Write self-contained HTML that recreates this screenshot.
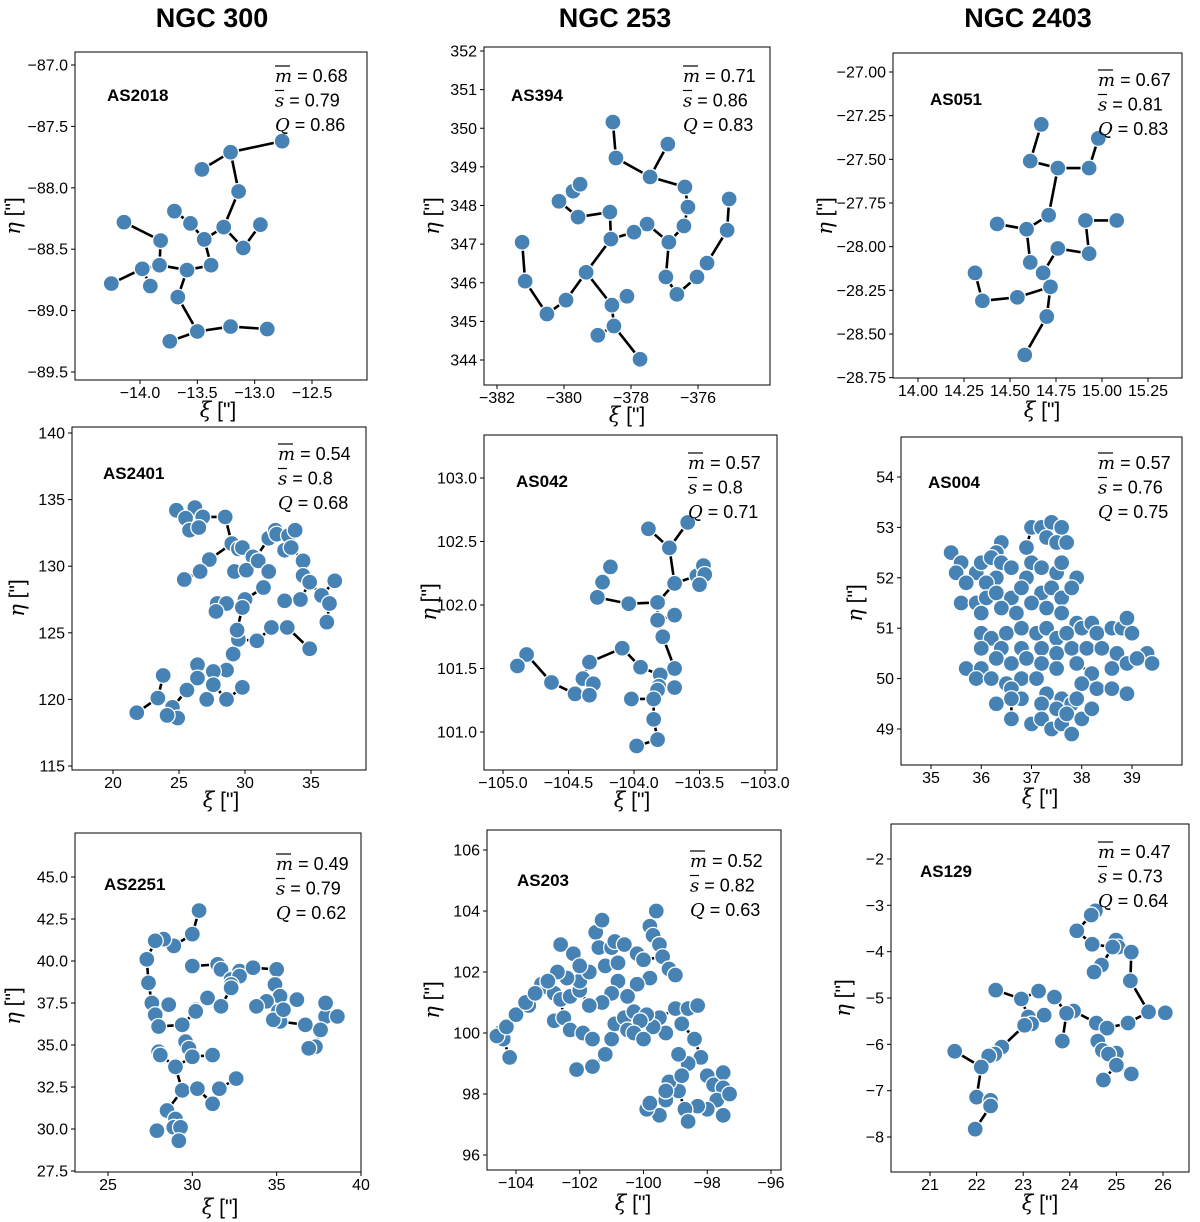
<!DOCTYPE html>
<html><head><meta charset="utf-8">
<style>
html,body{margin:0;padding:0;background:#fff;}
svg{display:block;font-family:"Liberation Sans","DejaVu Sans",sans-serif;}
</style></head>
<body>
<svg id="fig" width="1200" height="1222" viewBox="0 0 1200 1222" xmlns="http://www.w3.org/2000/svg">
<text x="212" y="27" text-anchor="middle" font-size="27" font-weight="bold">NGC 300</text>
<text x="615" y="27" text-anchor="middle" font-size="27" font-weight="bold">NGC 253</text>
<text x="1028" y="27" text-anchor="middle" font-size="27" font-weight="bold">NGC 2403</text>
</svg>
<script>
// ---- data ----
const as2018Points=[[-12.76,-87.62],[-13.21,-87.71],[-13.46,-87.85],[-13.14,-88.03],[-13.70,-88.19],[-13.56,-88.29],[-14.14,-88.28],[-13.82,-88.43],[-13.44,-88.42],[-13.27,-88.32],[-12.95,-88.30],[-13.10,-88.49],[-13.38,-88.63],[-13.83,-88.63],[-13.59,-88.67],[-13.98,-88.66],[-14.25,-88.78],[-13.91,-88.80],[-13.67,-88.89],[-13.50,-89.17],[-13.21,-89.13],[-12.89,-89.15],[-13.74,-89.25]];
const as394Points=[[-378.54,350.16],[-378.45,349.23],[-376.90,349.59],[-377.43,348.74],[-376.39,348.48],[-376.30,347.96],[-375.07,348.17],[-375.13,347.36],[-375.73,346.51],[-376.03,346.15],[-376.63,345.70],[-376.96,346.15],[-376.87,347.05],[-376.42,347.47],[-377.52,347.52],[-377.91,347.31],[-378.63,347.83],[-378.60,347.13],[-379.34,346.27],[-379.94,345.55],[-380.51,345.19],[-381.16,346.04],[-381.25,347.05],[-380.15,348.11],[-379.73,348.37],[-379.52,348.55],[-379.58,347.70],[-378.57,345.42],[-378.12,345.65],[-378.51,344.88],[-378.99,344.64],[-377.73,344.02]];
const as051Points=[[14.67,-27.30],[14.98,-27.38],[14.61,-27.51],[14.76,-27.55],[14.93,-27.55],[14.71,-27.82],[14.91,-27.85],[15.08,-27.85],[14.43,-27.87],[14.59,-27.90],[14.76,-28.01],[14.93,-28.04],[14.61,-28.09],[14.68,-28.15],[14.31,-28.15],[14.35,-28.31],[14.54,-28.29],[14.72,-28.23],[14.70,-28.40],[14.58,-28.62]];
const as2401Points=[[24.8,134.2],[26.2,134.4],[25.5,133.6],[26.8,133.7],[28.5,133.7],[25.8,132.7],[26.5,132.9],[29.0,131.7],[29.5,131.3],[29.8,131.4],[30.8,130.6],[30.6,130.7],[27.3,130.5],[26.6,129.6],[25.4,129.0],[29.2,129.6],[30.1,129.7],[31.8,132.1],[32.3,132.7],[32.4,132.4],[33.3,132.3],[33.8,132.7],[33.0,131.2],[33.5,131.4],[31.0,130.4],[31.8,129.6],[34.4,130.4],[34.4,129.3],[34.9,128.8],[34.2,127.5],[35.8,127.8],[36.8,128.9],[36.4,127.2],[36.2,125.8],[34.9,123.8],[33.0,127.4],[33.2,125.4],[32.0,125.4],[30.9,124.4],[29.5,124.5],[29.4,125.2],[27.9,127.2],[28.6,127.2],[30.0,127.5],[29.8,126.9],[31.4,128.4],[27.8,126.6],[29.1,123.4],[28.6,122.2],[27.6,122.1],[26.4,122.6],[26.4,121.6],[27.6,121.1],[29.8,120.9],[25.6,120.7],[27.1,120.0],[28.6,120.0],[23.8,121.8],[23.4,120.1],[24.5,119.4],[24.9,118.6],[24.1,118.8],[21.8,119.0]];
const as042Points=[[-103.59,102.65],[-103.89,102.60],[-103.73,102.45],[-104.18,102.30],[-104.24,102.18],[-103.52,102.23],[-103.47,102.31],[-103.46,102.24],[-103.50,102.16],[-103.69,102.17],[-104.28,102.06],[-104.04,102.01],[-103.82,102.02],[-103.69,101.92],[-103.82,101.88],[-103.78,101.75],[-104.09,101.66],[-104.34,101.55],[-103.95,101.51],[-103.69,101.50],[-103.80,101.45],[-103.81,101.36],[-103.69,101.35],[-103.82,101.33],[-104.82,101.61],[-104.89,101.52],[-104.63,101.39],[-104.39,101.42],[-104.31,101.38],[-104.45,101.30],[-104.34,101.29],[-104.02,101.26],[-103.85,101.26],[-103.85,101.10],[-103.82,100.94],[-103.98,100.89]];
const as004Points=[[37.0,53.0],[37.2,53.0],[37.4,53.1],[37.6,53.0],[37.3,52.8],[37.5,52.7],[37.7,52.7],[36.9,52.6],[36.4,52.7],[36.3,52.5],[35.4,52.5],[35.6,52.3],[35.9,52.1],[35.5,52.1],[36.0,52.3],[36.2,52.4],[36.4,52.3],[36.6,52.2],[37.0,52.3],[37.2,52.2],[37.5,52.1],[37.6,52.3],[37.9,52.0],[36.9,52.0],[36.3,52.0],[36.1,51.9],[35.7,51.9],[35.6,51.5],[35.9,51.5],[36.1,51.6],[36.3,51.7],[36.6,51.6],[36.8,51.8],[37.2,51.7],[37.4,51.8],[37.6,51.6],[37.8,51.8],[37.0,51.5],[36.4,51.4],[36.0,51.3],[36.7,51.3],[37.3,51.4],[37.6,51.3],[37.9,51.1],[38.0,51.0],[38.2,51.1],[38.3,50.9],[38.6,51.0],[38.8,51.0],[38.9,51.2],[39.0,50.9],[36.0,50.9],[36.2,50.8],[36.5,50.9],[36.8,51.0],[37.1,50.9],[37.3,51.0],[37.5,50.8],[37.7,50.9],[36.0,50.6],[36.4,50.6],[36.8,50.6],[37.2,50.6],[37.5,50.5],[37.8,50.6],[38.1,50.6],[38.4,50.6],[38.7,50.5],[38.6,50.2],[38.9,50.3],[39.3,50.5],[39.4,50.3],[39.1,50.4],[35.7,50.2],[36.0,50.2],[36.3,50.4],[36.6,50.3],[36.9,50.4],[37.2,50.3],[37.5,50.2],[37.9,50.3],[38.2,50.1],[38.0,49.9],[38.3,49.8],[38.6,49.8],[38.9,49.7],[35.9,50.0],[36.2,50.0],[36.5,49.9],[36.8,50.0],[37.1,50.0],[36.6,49.8],[36.8,49.6],[37.3,49.7],[37.6,49.6],[37.8,49.5],[37.5,49.4],[37.2,49.5],[36.6,49.6],[36.3,49.5],[36.6,49.2],[37.0,49.1],[37.2,49.2],[37.4,49.0],[37.6,49.1],[37.7,49.3],[37.8,48.9],[38.0,49.2],[38.2,49.4],[37.9,49.6]];
const as2251Points=[[30.4,43.0],[30.0,41.6],[28.9,40.9],[28.3,41.3],[27.8,41.2],[27.3,40.1],[27.4,38.7],[30.0,39.7],[31.5,39.8],[31.7,39.5],[32.8,39.4],[32.3,38.9],[33.6,39.6],[32.8,39.1],[32.3,38.6],[32.3,38.4],[35.0,39.5],[34.9,38.6],[35.2,37.9],[34.4,37.6],[33.8,37.3],[30.9,37.8],[30.2,37.1],[30.2,37.0],[31.7,37.3],[27.6,37.5],[28.6,37.4],[27.8,36.8],[28.0,36.1],[29.4,36.2],[29.6,35.2],[29.8,34.8],[28.0,34.6],[28.1,34.4],[31.2,34.4],[30.0,34.3],[29.0,33.7],[29.4,32.3],[30.3,32.4],[31.2,31.5],[31.6,32.4],[32.6,33.0],[28.5,31.1],[29.0,30.6],[28.9,30.1],[29.3,30.1],[27.9,29.9],[29.2,29.3],[35.1,37.0],[36.2,37.7],[36.7,36.2],[37.9,36.7],[37.6,35.9],[37.3,34.9],[36.9,34.8],[38.6,36.7],[37.9,37.5],[35.2,36.4],[34.8,36.5],[35.4,37.1]];
const as203Points=[[-104.5,100.0],[-104.4,99.8],[-104.6,99.9],[-104.3,100.2],[-104.2,99.2],[-104.0,100.6],[-103.6,100.9],[-103.7,101.0],[-103.3,101.4],[-103.2,101.6],[-103.0,101.5],[-102.8,101.3],[-102.6,101.1],[-102.3,101.2],[-102.0,101.4],[-102.8,100.4],[-102.5,100.5],[-102.3,100.1],[-101.9,100.0],[-101.6,99.8],[-102.1,98.8],[-101.6,98.9],[-101.2,99.3],[-101.0,99.8],[-100.9,100.3],[-100.6,100.5],[-100.3,100.7],[-100.5,100.1],[-102.6,102.9],[-102.2,102.6],[-102.0,101.7],[-101.5,103.3],[-101.3,103.7],[-101.4,102.8],[-101.0,102.8],[-100.9,103.0],[-100.6,102.9],[-100.2,102.6],[-100.0,102.4],[-99.8,103.5],[-99.6,104.0],[-99.7,103.2],[-99.5,102.9],[-99.4,102.5],[-99.2,102.1],[-99.0,101.9],[-99.8,101.8],[-100.2,101.6],[-100.5,101.2],[-100.8,101.7],[-101.0,101.3],[-101.3,101.0],[-101.7,100.9],[-102.4,101.8],[-102.7,102.0],[-103.0,101.7],[-103.4,101.3],[-99.5,100.5],[-99.3,100.0],[-99.7,100.2],[-99.9,100.6],[-100.1,100.4],[-100.3,100.0],[-100.0,99.8],[-99.0,100.8],[-98.8,100.3],[-98.6,100.8],[-98.3,100.9],[-98.4,99.8],[-98.2,99.2],[-98.6,99.0],[-98.9,99.3],[-98.0,98.6],[-97.8,98.3],[-97.5,98.7],[-97.5,98.2],[-97.7,97.8],[-98.0,97.5],[-98.3,97.6],[-98.7,97.5],[-98.6,97.1],[-98.9,98.1],[-99.2,98.4],[-98.8,98.6],[-99.3,97.8],[-99.5,97.3],[-99.9,97.5],[-99.8,97.7],[-99.3,98.1],[-97.5,97.3],[-97.3,98.0],[-101.2,102.2],[-100.8,102.3],[-101.7,102.0],[-102.0,102.2]];
const as129Points=[[24.55,-3.12],[24.46,-3.21],[24.15,-3.55],[24.48,-3.84],[24.99,-3.75],[25.04,-3.90],[24.92,-3.90],[25.32,-4.01],[24.68,-4.29],[24.52,-4.44],[25.30,-4.63],[23.33,-4.85],[22.96,-5.02],[23.67,-4.98],[22.41,-4.83],[25.69,-5.30],[26.05,-5.32],[24.08,-5.28],[23.93,-5.33],[23.45,-5.37],[23.11,-5.41],[23.18,-5.56],[23.03,-5.59],[24.57,-5.54],[25.25,-5.54],[24.80,-5.65],[24.60,-5.93],[23.84,-5.93],[24.70,-6.13],[25.00,-6.19],[24.83,-6.21],[22.54,-6.06],[22.39,-6.21],[22.26,-6.25],[21.53,-6.15],[22.10,-6.49],[25.00,-6.45],[24.72,-6.77],[25.32,-6.64],[22.00,-7.14],[22.30,-7.21],[22.30,-7.33],[21.97,-7.83]];

const p1XTicks=[-14.0,-13.5,-13.0,-12.5], p1YTicks=[-87.0,-87.5,-88.0,-88.5,-89.0,-89.5];
const p2XTicks=[-382,-380,-378,-376], p2YTicks=[344,345,346,347,348,349,350,351,352];
const p3XTicks=[14.00,14.25,14.50,14.75,15.00,15.25], p3YTicks=[-27.00,-27.25,-27.50,-27.75,-28.00,-28.25,-28.50,-28.75];
const p4XTicks=[20,25,30,35], p4YTicks=[115,120,125,130,135,140];
const p5XTicks=[-105.0,-104.5,-104.0,-103.5,-103.0], p5YTicks=[101.0,101.5,102.0,102.5,103.0];
const p6XTicks=[35,36,37,38,39], p6YTicks=[49,50,51,52,53,54];
const p7XTicks=[25,30,35,40], p7YTicks=[27.5,30.0,32.5,35.0,37.5,40.0,42.5,45.0];
const p8XTicks=[-104,-102,-100,-98,-96], p8YTicks=[96,98,100,102,104,106];
const p9XTicks=[21,22,23,24,25,26], p9YTicks=[-8,-7,-6,-5,-4,-3,-2];

const panelNames=["AS2018","AS394","AS051","AS2401","AS042","AS004","AS2251","AS203","AS129"];
const mValues=["0.68","0.71","0.67","0.54","0.57","0.57","0.49","0.52","0.47"];
const sValues=["0.79","0.86","0.81","0.8","0.8","0.76","0.79","0.82","0.73"];
const qValues=["0.86","0.83","0.83","0.68","0.71","0.75","0.62","0.63","0.64"];

// ---- layout (pixel geometry) ----
const layout=[
 {pts:as2018Points,xt:p1XTicks,yt:p1YTicks,xd:1,yd:1,f:[75,52,367,380],xr:[-14,140,-12.5,312],yr:[-87,65,-89.5,372],st:[275,76],lb:[107,95],xl:[218,417],yl:[20,216]},
 {pts:as394Points,xt:p2XTicks,yt:p2YTicks,xd:0,yd:0,f:[484,47,770,385],xr:[-382,497,-376,698],yr:[352,51,344,360],st:[683,76],lb:[511,95],xl:[627,422],yl:[439,216]},
 {pts:as051Points,xt:p3XTicks,yt:p3YTicks,xd:2,yd:2,f:[893,53,1182,378],xr:[14,918,15.25,1148],yr:[-27,72,-28.5,334],st:[1098,80],lb:[930,99],xl:[1042,417],yl:[832,216]},
 {pts:as2401Points,xt:p4XTicks,yt:p4YTicks,xd:0,yd:0,f:[72,427,366,770],xr:[20,113,35,311],yr:[140,433,115,766],st:[278,454],lb:[103,473],xl:[221,807],yl:[24,598]},
 {pts:as042Points,xt:p5XTicks,yt:p5YTicks,xd:1,yd:1,f:[484,435,777,770],xr:[-105,503,-103,765],yr:[103,478,101,732],st:[688,463],lb:[516,481],xl:[632,807],yl:[436,602]},
 {pts:as004Points,xt:p6XTicks,yt:p6YTicks,xd:0,yd:0,f:[901,437,1182,765],xr:[35,931,39,1132],yr:[54,477,49,729],st:[1098,463],lb:[928,482],xl:[1040,804],yl:[862,603]},
 {pts:as2251Points,xt:p7XTicks,yt:p7YTicks,xd:0,yd:1,f:[75,833,361,1172],xr:[25,108,40,361],yr:[45,877,27.5,1171],st:[276,864],lb:[104,884],xl:[220,1214],yl:[20,1006]},
 {pts:as203Points,xt:p8XTicks,yt:p8YTicks,xd:0,yd:0,f:[487,830,781,1170],xr:[-104,516,-96,771],yr:[106,850,96,1155],st:[690,861],lb:[517,880],xl:[633,1210],yl:[439,1000]},
 {pts:as129Points,xt:p9XTicks,yt:p9YTicks,xd:0,yd:0,f:[891,824,1189,1172],xr:[21,930,26,1163],yr:[-2,859,-8,1137],st:[1098,852],lb:[920,871],xl:[1040,1210],yl:[850,998]}
];

const NS="http://www.w3.org/2000/svg";
const svg=document.getElementById('fig');
function mk(tag,attrs,parent){const e=document.createElementNS(NS,tag);for(const k in attrs)e.setAttribute(k,attrs[k]);parent.appendChild(e);return e;}
function fmt(v,d){return (v<0?"\u2212":"")+Math.abs(v).toFixed(d);}

layout.forEach((L,i)=>{
  const g=mk('g',{},svg);
  
  
  const sx=v=>L.xr[1]+(v-L.xr[0])*(L.xr[3]-L.xr[1])/(L.xr[2]-L.xr[0]);
  const sy=v=>L.yr[1]+(v-L.yr[0])*(L.yr[3]-L.yr[1])/(L.yr[2]-L.yr[0]);
  const [x0,y0,x1,y1]=L.f;
  const fr=mk('rect',{x:x0,y:y0,width:x1-x0,height:y1-y0,fill:'none',stroke:'#000','stroke-width':1},g);
  
  
  L.xt.forEach(t=>{const px=sx(t);
    mk('line',{x1:px,y1:y1,x2:px,y2:y1+4,stroke:'#000'},g);
    const tx=mk('text',{x:px,y:y1+18,'text-anchor':'middle','font-size':16},g);
    
    
    tx.textContent=fmt(t,L.xd);});
  L.yt.forEach(t=>{const py=sy(t);
    mk('line',{x1:x0-4,y1:py,x2:x0,y2:py,stroke:'#000'},g);
    const tx=mk('text',{x:x0-7,y:py+5.5,'text-anchor':'end','font-size':16},g);
    
    
    tx.textContent=fmt(t,L.yd);});
  const xl=mk('text',{x:L.xl[0],y:L.xl[1],'text-anchor':'middle','font-size':21},g);
  
  
  xl.innerHTML='<tspan font-style="italic" font-family="DejaVu Serif, serif">ξ</tspan> ["]';
  const yl=mk('text',{x:0,y:0,'text-anchor':'middle','font-size':21,transform:`translate(${L.yl[0]},${L.yl[1]}) rotate(-90)`},g);
  
  
  yl.innerHTML='<tspan font-style="italic" font-family="DejaVu Serif, serif">η</tspan> ["]';
  // MST (Prim) in pixel space
  const P=L.pts.map(p=>[sx(p[0]),sy(p[1])]);
  const n=P.length,inT=new Array(n).fill(false),best=new Array(n).fill(Infinity),par=new Array(n).fill(-1);
  best[0]=0;
  const edges=mk('g',{},g);
  
  
  for(let k=0;k<n;k++){let u=-1;for(let j=0;j<n;j++)if(!inT[j]&&(u<0||best[j]<best[u]))u=j;
    inT[u]=true;
    if(par[u]>=0){const e=mk('line',{x1:P[u][0],y1:P[u][1],x2:P[par[u]][0],y2:P[par[u]][1],stroke:'#000','stroke-width':2.6},edges);
      
      }
    for(let j=0;j<n;j++)if(!inT[j]){const d=Math.hypot(P[j][0]-P[u][0],P[j][1]-P[u][1]);if(d<best[j]){best[j]=d;par[j]=u;}}}
  const pts=mk('g',{},g);
  
  
  P.forEach(p=>{const c=mk('circle',{cx:p[0],cy:p[1],r:8,fill:'#4682b4',stroke:'#fff','stroke-width':1.3},pts);
    
    });
  const lb=mk('text',{x:L.lb[0],y:L.lb[1]+6,'font-size':17,'font-weight':'bold'},g);
  
  
  lb.textContent=panelNames[i];
  const lines=[['m',mValues[i],true],['s',sValues[i],true],['Q',qValues[i],false]];
  lines.forEach((ln,k)=>{const y=L.st[1]+k*24.5+6;
    const t=mk('text',{x:L.st[0],y:y,'font-size':18},g);
    
    
    t.innerHTML=`<tspan font-style="italic" font-family="DejaVu Serif, serif">${ln[0]}</tspan> = ${ln[1]}`;
    if(ln[2]){const w=ln[0]==='m'?15:9;
      mk('line',{x1:L.st[0],y1:y-16,x2:L.st[0]+w,y2:y-16,stroke:'#000','stroke-width':1.2},g);}
  });
});
</script>
</body></html>
